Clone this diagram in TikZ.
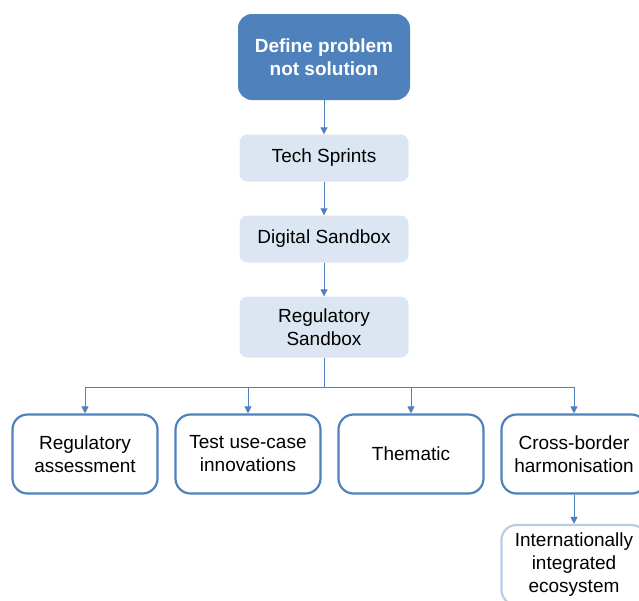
\documentclass[tikz,border=0pt]{standalone}
\usepackage{fontspec}
\setmainfont{Liberation Sans}
\usetikzlibrary{arrows.meta}
\definecolor{darkblue}{HTML}{4F81BD}
\definecolor{paleblue}{HTML}{DCE6F2}
\definecolor{edgeblue}{HTML}{B9CDE5}
\newcommand{\textsize}{\fontsize{19pt}{23pt}\selectfont}

\begin{document}
\begin{tikzpicture}[x=1pt,y=-1pt,
  topbox/.style={fill=darkblue,rounded corners=14pt,minimum width=172pt,minimum height=86pt,align=center,text=white,font=\textsize\bfseries},
  stagebox/.style={fill=paleblue,rounded corners=8pt,minimum width=169pt,align=center,font=\textsize},
  kindbox/.style={draw=darkblue,line width=2.2pt,fill=white,rounded corners=15pt,minimum width=145pt,minimum height=79pt,align=center,font=\textsize},
  link/.style={draw=darkblue,line width=1pt,-{Triangle[length=7pt,width=7pt]}}]
\useasboundingbox (0,0) rectangle (639,600);
\clip (0,0) rectangle (639,600);
\node[topbox] (define) at (324,57) {Define problem\\not solution};
\node[stagebox,minimum height=47pt] (sprints) at (324,158) {Tech Sprints};
\node[stagebox,minimum height=47pt] (digital) at (324,239) {Digital Sandbox};
\node[stagebox,minimum height=61pt] (regulatory) at (324,327) {Regulatory\\Sandbox};
\node[kindbox] (assess) at (85,454) {Regulatory\\assessment};
\node[kindbox] (usecase) at (248,454) {Test use-case\\innovations};
\node[kindbox] (thematic) at (411,454) {Thematic};
\node[kindbox] (crossborder) at (574,454) {Cross-border\\harmonisation};
\node[kindbox,draw=edgeblue,minimum height=80pt] (ecosystem) at (574,565) {Internationally\\integrated\\ecosystem};
%main chain
\draw[link] (define) -- (sprints);
\draw[link] (sprints) -- (digital);
\draw[link] (digital) -- (regulatory);
%branches
\coordinate (fork) at (324,387);
\draw[darkblue,line width=1pt] (regulatory.south) -- (fork);
\draw[link] (fork) -| (assess.north);
\draw[link] (fork) -| (usecase.north);
\draw[link] (fork) -| (thematic.north);
\draw[link] (fork) -| (crossborder.north);
\draw[link] (crossborder) -- (ecosystem);
\end{tikzpicture}
\end{document}
